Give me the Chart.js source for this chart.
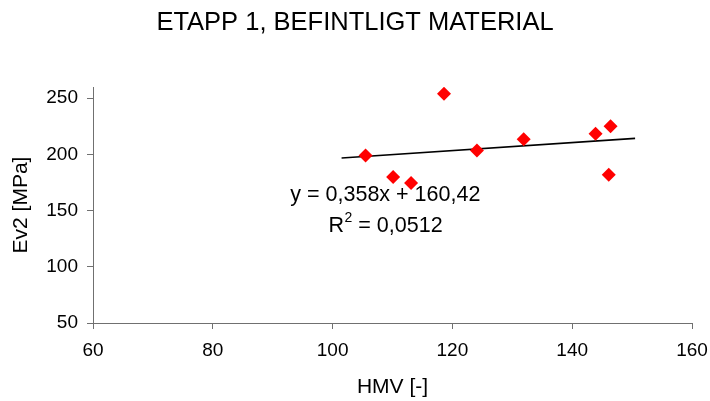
<!DOCTYPE html>
<html>
<head>
<meta charset="utf-8">
<script src="https://cdn.jsdelivr.net/npm/chart.js@4/dist/chart.umd.min.js"></script>
<style>
  html, body { margin: 0; padding: 0; background: #ffffff; }
  #wrap { width: 710px; height: 401px; }
</style>
</head>
<body>
<div id="wrap"><canvas id="chart" width="710" height="401"></canvas></div>
<script>
// Measurements: HMV against Ev2
const hmv = [105.5, 110.1, 113.1, 118.6, 124.1, 131.9, 143.9, 146.4, 146.1];
const ev2 = [199, 180, 174.5, 254, 203.5, 213.5, 218.3, 225, 182];

// Linear trend line y = a*x + b, drawn over this HMV span
const trendSlope = 0.358;
const trendIntercept = 160.42;
const trendSpan = [101.5, 150.5];

// Axis ticks
const xTicks = [60, 80, 100, 120, 140, 160];
const yTicks = [50, 100, 150, 200, 250];

// Texts
const chartTitle = 'ETAPP 1, BEFINTLIGT MATERIAL';
const xTitle = 'HMV [-]';
const yTitle = 'Ev2 [MPa]';
const eqText = 'y = 0,358x + 160,42';
const r2Parts = ['R', '2', ' = 0,0512'];

const FONT = '"Liberation Sans", Arial, Helvetica, sans-serif';
const AXIS_COLOR = '#707070';

const points = hmv.map((x, i) => ({ x: x, y: ev2[i] }));
const trend = trendSpan.map(x => ({ x: x, y: trendSlope * x + trendIntercept }));

// Writes the regression equation and R² next to the trend line
const equationLabel = {
  id: 'equationLabel',
  afterDatasetsDraw(chart) {
    const { ctx, scales: { x, y } } = chart;
    const cx = x.getPixelForValue(108.8);
    const y1 = y.getPixelForValue(163.4);
    const y2 = y.getPixelForValue(136.6);
    const big = '21.5px ' + FONT;
    const small = '14px ' + FONT;
    ctx.save();
    ctx.fillStyle = '#000000';
    ctx.textBaseline = 'middle';
    ctx.font = big;
    ctx.textAlign = 'center';
    ctx.fillText(eqText, cx, y1);

    ctx.textAlign = 'left';
    ctx.font = big;
    const wR = ctx.measureText(r2Parts[0]).width;
    const wRest = ctx.measureText(r2Parts[2]).width;
    ctx.font = small;
    const wSup = ctx.measureText(r2Parts[1]).width;
    let px = cx - (wR + wSup + wRest) / 2;
    ctx.font = big;
    ctx.fillText(r2Parts[0], px, y2);
    px += wR + 0.5;
    ctx.font = small;
    ctx.fillText(r2Parts[1], px, y2 - 8);
    px += wSup;
    ctx.font = big;
    ctx.fillText(r2Parts[2], px, y2);
    ctx.restore();
  }
};

new Chart(document.getElementById('chart'), {
  type: 'scatter',
  data: {
    datasets: [
      {
        label: 'Ev2',
        data: points,
        pointStyle: 'rectRot',
        pointRadius: 7,
        pointHoverRadius: 7,
        backgroundColor: '#ff0000',
        borderColor: '#ff0000',
        borderWidth: 0,
        order: 1
      },
      {
        label: 'Trend',
        data: trend,
        showLine: true,
        pointRadius: 0,
        borderColor: '#000000',
        borderWidth: 1.6,
        fill: false,
        order: 2
      }
    ]
  },
  options: {
    responsive: false,
    animation: false,
    devicePixelRatio: 1,
    layout: { padding: 0 },
    plugins: {
      legend: { display: false },
      tooltip: { enabled: false },
      title: {
        display: true,
        text: chartTitle,
        color: '#000000',
        font: { family: FONT, size: 25.5, weight: 'normal', lineHeight: 1.2 },
        padding: { top: 8, bottom: 48.4 }
      }
    },
    scales: {
      x: {
        type: 'linear',
        min: 60,
        max: 160,
        afterBuildTicks: s => { s.ticks = xTicks.map(v => ({ value: v })); },
        afterFit: s => { s.height = 78; s.paddingLeft = 0; s.paddingRight = 18; },
        grid: { drawOnChartArea: false, drawTicks: true, tickLength: 6, tickColor: AXIS_COLOR, lineWidth: 1 },
        border: { display: true, color: AXIS_COLOR, width: 1 },
        ticks: { color: '#000000', font: { family: FONT, size: 19 }, padding: 10, maxRotation: 0 },
        title: {
          display: true,
          text: xTitle,
          color: '#000000',
          font: { family: FONT, size: 21, lineHeight: 1.2 },
          padding: { top: 0, bottom: 1 }
        }
      },
      y: {
        type: 'linear',
        min: 50,
        max: 260,
        afterBuildTicks: s => { s.ticks = yTicks.map(v => ({ value: v })); },
        afterFit: s => { s.width = 93; s.paddingTop = 0; s.paddingBottom = 0; },
        grid: { drawOnChartArea: false, drawTicks: true, tickLength: 6, tickColor: AXIS_COLOR, lineWidth: 1 },
        border: { display: true, color: AXIS_COLOR, width: 1 },
        ticks: { color: '#000000', font: { family: FONT, size: 19 }, padding: 9 },
        title: {
          display: true,
          text: yTitle,
          color: '#000000',
          font: { family: FONT, size: 21, lineHeight: 1.2 },
          padding: { top: 9, bottom: 0 }
        }
      }
    }
  },
  plugins: [equationLabel]
});
</script>
</body>
</html>
